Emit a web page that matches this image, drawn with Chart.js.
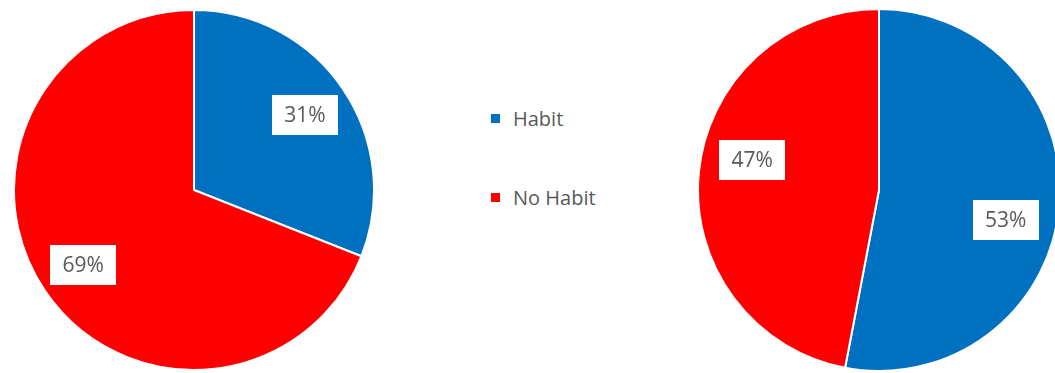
<!DOCTYPE html>
<html>
<head>
<meta charset="utf-8">
<script src="https://cdn.jsdelivr.net/npm/chart.js@4.4.1/dist/chart.umd.min.js"></script>
<style>
  html, body { margin: 0; padding: 0; background: #ffffff; overflow: hidden; }
  body { width: 1055px; height: 373px; position: relative; font-family: "Open Sans", sans-serif; }
  canvas { position: absolute; }
  #pieA { left: 13px; top: 9px; }
  #pieB { left: 697px; top: 8px; }
  #legend { position: absolute; left: 491px; top: 104px; color: #595959; font-size: 20px; }
  #legend .item { display: flex; align-items: center; height: 28px; margin-bottom: 51px; white-space: nowrap; }
  #legend .swatch { width: 9px; height: 9px; margin-right: 13px; }
</style>
</head>
<body>
<canvas id="pieA" width="362" height="362"></canvas>
<canvas id="pieB" width="364" height="364"></canvas>
<div id="legend"></div>
<script>
// Categories and shares (percent) for the two groups
const categories = ["Habit", "No Habit"];
const groupA = [31, 69];
const groupB = [53, 47];
const sliceColors = ["#0070C0", "#FF0000"];

// Boxed percentage labels placed along each slice's mid-angle
const boxedLabels = {
  id: "boxedLabels",
  afterDatasetsDraw(chart, args, opts) {
    const ctx = chart.ctx;
    const meta = chart.getDatasetMeta(0);
    const values = chart.data.datasets[0].data;
    ctx.save();
    ctx.font = "21px 'Open Sans', sans-serif";
    ctx.textAlign = "center";
    ctx.textBaseline = "middle";
    meta.data.forEach((arc, i) => {
      const p = arc.getProps(["x", "y", "startAngle", "endAngle", "outerRadius"], true);
      const mid = (p.startAngle + p.endAngle) / 2 + (opts.shift || 0) * Math.PI / 180;
      const r = p.outerRadius * opts.radius;
      const cx = p.x + Math.cos(mid) * r;
      const cy = p.y + Math.sin(mid) * r;
      const w = 66, h = 40;
      ctx.fillStyle = "#ffffff";
      ctx.fillRect(Math.round(cx - w / 2), Math.round(cy - h / 2), w, h);
      ctx.fillStyle = "#595959";
      ctx.fillText(values[i] + "%", cx, cy + 1);
    });
    ctx.restore();
  }
};

function makePie(id, values, labelOpts) {
  return new Chart(document.getElementById(id), {
    type: "pie",
    data: {
      labels: categories,
      datasets: [{
        data: values,
        backgroundColor: sliceColors,
        borderColor: "#ffffff",
        borderWidth: 2
      }]
    },
    options: {
      responsive: false,
      animation: false,
      layout: { padding: 0 },
      plugins: {
        legend: { display: false },
        tooltip: { enabled: false },
        boxedLabels: labelOpts
      }
    },
    plugins: [boxedLabels]
  });
}

makePie("pieA", groupA, { radius: 0.745, shift: 0 });
makePie("pieB", groupB, { radius: 0.72, shift: 8 });

// Shared legend between the two pies
const legend = document.getElementById("legend");
categories.forEach((name, i) => {
  const item = document.createElement("div");
  item.className = "item";
  const sw = document.createElement("span");
  sw.className = "swatch";
  sw.style.background = sliceColors[i];
  const tx = document.createElement("span");
  tx.textContent = name;
  item.appendChild(sw);
  item.appendChild(tx);
  legend.appendChild(item);
});
</script>
</body>
</html>
